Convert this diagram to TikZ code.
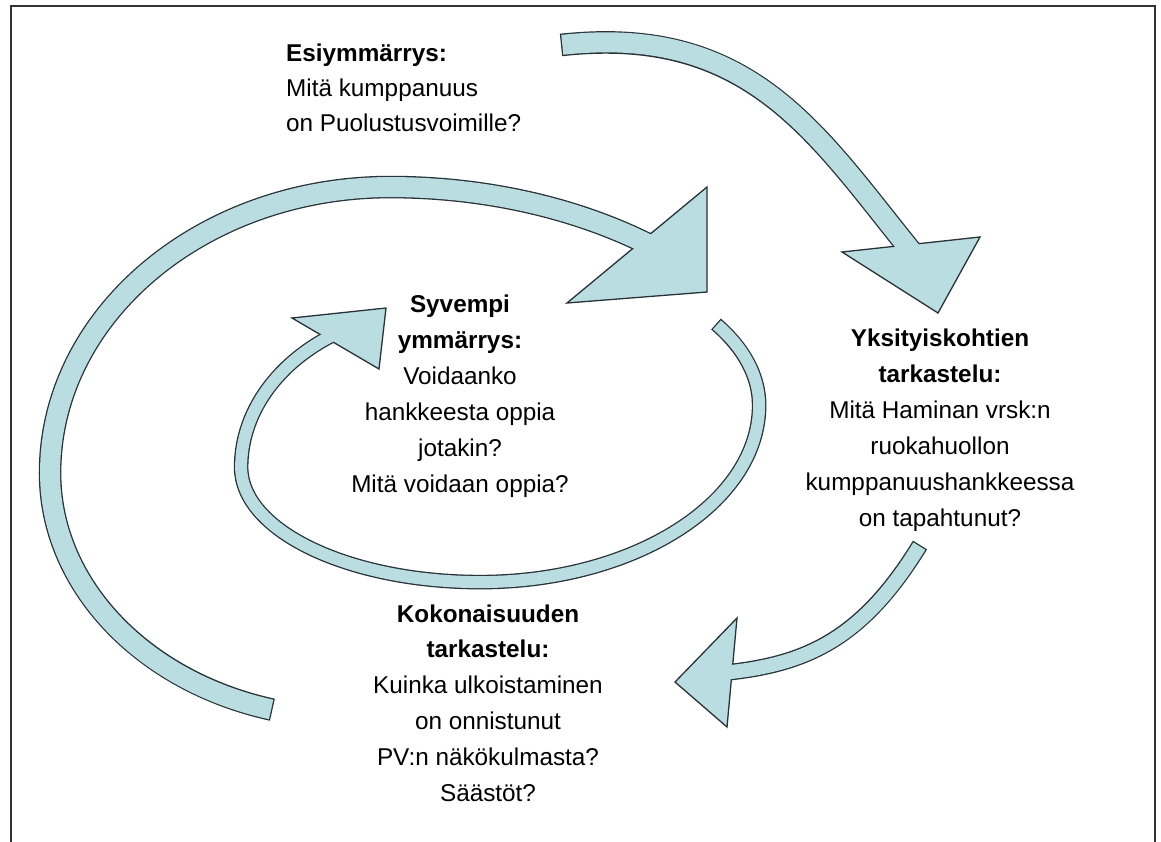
\documentclass[tikz,border=0pt]{standalone}
\usepackage{fontspec}
\setmainfont{Liberation Sans}
\definecolor{arrowfill}{RGB}{186,221,226}
\definecolor{arrowline}{RGB}{40,50,55}
\tikzset{
  lbl/.style={font=\fontsize{24.3}{36}\selectfont, align=center, inner sep=0pt},
  lblleft/.style={font=\fontsize{24.3}{35}\selectfont, align=left, inner sep=0pt},
  headshape/.style={fill=arrowfill, draw=arrowline, line width=1.3pt, line join=miter},
  frameline/.style={draw=black!80, line width=2pt}
}
% #1 outer width, #2 inner width, #3 shaft path, #4 head path
\newcommand{\bandarrow}[4]{%
  \draw[line width=#1, arrowline] #3;
  \draw[headshape] #4 -- cycle;
  \draw[line width=#2, arrowfill, shorten <=1.3pt] #3;
}
\begin{document}
\begin{tikzpicture}[x=1pt, y=-1pt]
\useasboundingbox (0,0) rectangle (1161,841);
\fill[white] (0,0) rectangle (1161,841);
% frame
\draw[frameline] (11,845) -- (11,6) -- (1155,6) -- (1155,845);

% Arrow A (top right)
\bandarrow{22.6pt}{20pt}{(561,45) .. controls (751,24) and (817,135) .. (912,252)}{(842,252) -- (980,237) -- (938,313)}

% Arrow B (outer loop)
\bandarrow{22.6pt}{20pt}{(272.4,709.7) arc[start angle=105, end angle=180, x radius=300, y radius=245] arc[start angle=180, end angle=270, x radius=340, y radius=286] arc[start angle=270, end angle=310, x radius=430, y radius=286]}{(707,187) -- (567,303) -- (707,292)}

% Arrow C (inner loop)
\bandarrow{14.6pt}{12pt}{(716,324) arc[start angle=328.9, end angle=360, x radius=300, y radius=157] arc[start angle=0, end angle=90, x radius=279, y radius=177] arc[start angle=90, end angle=180, x radius=239, y radius=115] arc[start angle=180, end angle=242, x radius=200, y radius=157]}{(292,318) -- (386,308) -- (379,369)}

% Arrow D (bottom right)
\bandarrow{16.6pt}{14pt}{(920,545) .. controls (860,643) and (802,665) .. (722,673)}{(737,618) -- (727,727) -- (675,682)}

% texts
\node[lblleft, anchor=west] (esi) at (286,88) {\textbf{Esiymmärrys:}\\Mitä kumppanuus\\on Puolustusvoimille?};
\node[lbl] (syv) at (460,396.5) {\textbf{Syvempi}\\\textbf{ymmärrys:}\\Voidaanko\\hankkeesta oppia\\jotakin?\\Mitä voidaan oppia?};
\node[lbl] (yks) at (940,430) {\textbf{Yksityiskohtien}\\\textbf{tarkastelu:}\\Mitä Haminan vrsk:n\\ruokahuollon\\kumppanuushankkeessa\\on tapahtunut?};
\node[lbl, font=\fontsize{24.3}{35.8}\selectfont] (kok) at (488,703) {\textbf{Kokonaisuuden}\\\textbf{tarkastelu:}\\Kuinka ulkoistaminen\\on onnistunut\\PV:n näkökulmasta?\\Säästöt?};
\end{tikzpicture}
\end{document}
